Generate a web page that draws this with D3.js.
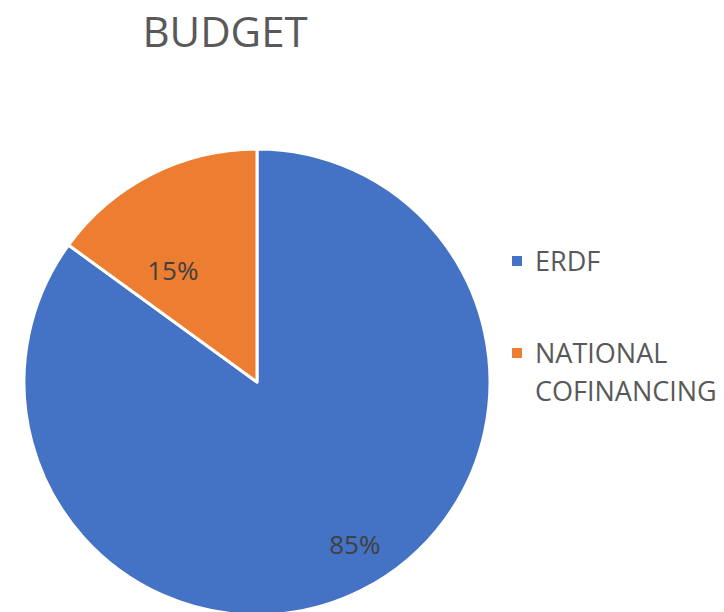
<!DOCTYPE html>
<html>
<head>
<meta charset="utf-8">
<script src="https://cdn.jsdelivr.net/npm/d3@7"></script>
<style>
  body { margin: 0; background: #fff; }
  svg { display: block; font-family: "Open Sans", sans-serif; }
</style>
</head>
<body>
<div id="chart"></div>
<script>
// Chart data
const categories = ["ERDF", "NATIONAL COFINANCING"];
const values = [85, 15];
const legendLines = [["ERDF"], ["NATIONAL", "COFINANCING"]];
const colors = ["#4472C4", "#ED7D31"];

const width = 724;
const height = 612;

const svg = d3.select("#chart")
    .append("svg")
    .attr("width", width)
    .attr("height", height);

// Title
svg.append("text")
    .attr("x", 225)
    .attr("y", 47)
    .attr("text-anchor", "middle")
    .attr("font-size", "42px")
    .attr("fill", "#595959")
    .text("BUDGET");

const cx = 257, cy = 382, radius = 233;

const pie = d3.pie().sort(null).value(d => d);
const arcs = pie(values);

const arc = d3.arc().innerRadius(0).outerRadius(radius);

const g = svg.append("g").attr("transform", `translate(${cx},${cy})`);

g.selectAll("path.slice")
    .data(arcs)
    .enter()
    .append("path")
    .attr("class", "slice")
    .attr("d", arc)
    .attr("fill", (d, i) => colors[i])
    .attr("stroke", "#fff")
    .attr("stroke-width", 3)
    .attr("stroke-linejoin", "round");

// Data labels: Excel pushes them around a bit from the mid angle
const labelRadius = [0.815, 0.6];
const labelShift = [-4, -10]; // degrees
g.selectAll("text.label")
    .data(arcs)
    .enter()
    .append("text")
    .attr("class", "label")
    .attr("transform", (d, i) => {
        const r = radius * labelRadius[i];
        const a = (d.startAngle + d.endAngle) / 2 + labelShift[i] * Math.PI / 180;
        return `translate(${Math.sin(a) * r},${-Math.cos(a) * r})`;
    })
    .attr("text-anchor", "middle")
    .attr("dy", "0.36em")
    .attr("font-size", "26px")
    .attr("fill", "#404040")
    .text(d => d3.format(".0%")(d.value / d3.sum(values)));

// Legend
const legend = svg.append("g").attr("transform", "translate(512,0)");
const legendY = [261, 353];
categories.forEach((c, i) => {
    const item = legend.append("g").attr("transform", `translate(0,${legendY[i]})`);
    item.append("rect")
        .attr("x", 0)
        .attr("y", -5)
        .attr("width", 10)
        .attr("height", 10)
        .attr("fill", colors[i]);
    const t = item.append("text")
        .attr("x", 23)
        .attr("y", 0)
        .attr("font-size", "27px")
        .attr("fill", "#595959");
    legendLines[i].forEach((line, j) => {
        t.append("tspan")
            .attr("x", 23)
            .attr("dy", j === 0 ? "0.36em" : "38px")
            .text(line);
    });
});
</script>
</body>
</html>
